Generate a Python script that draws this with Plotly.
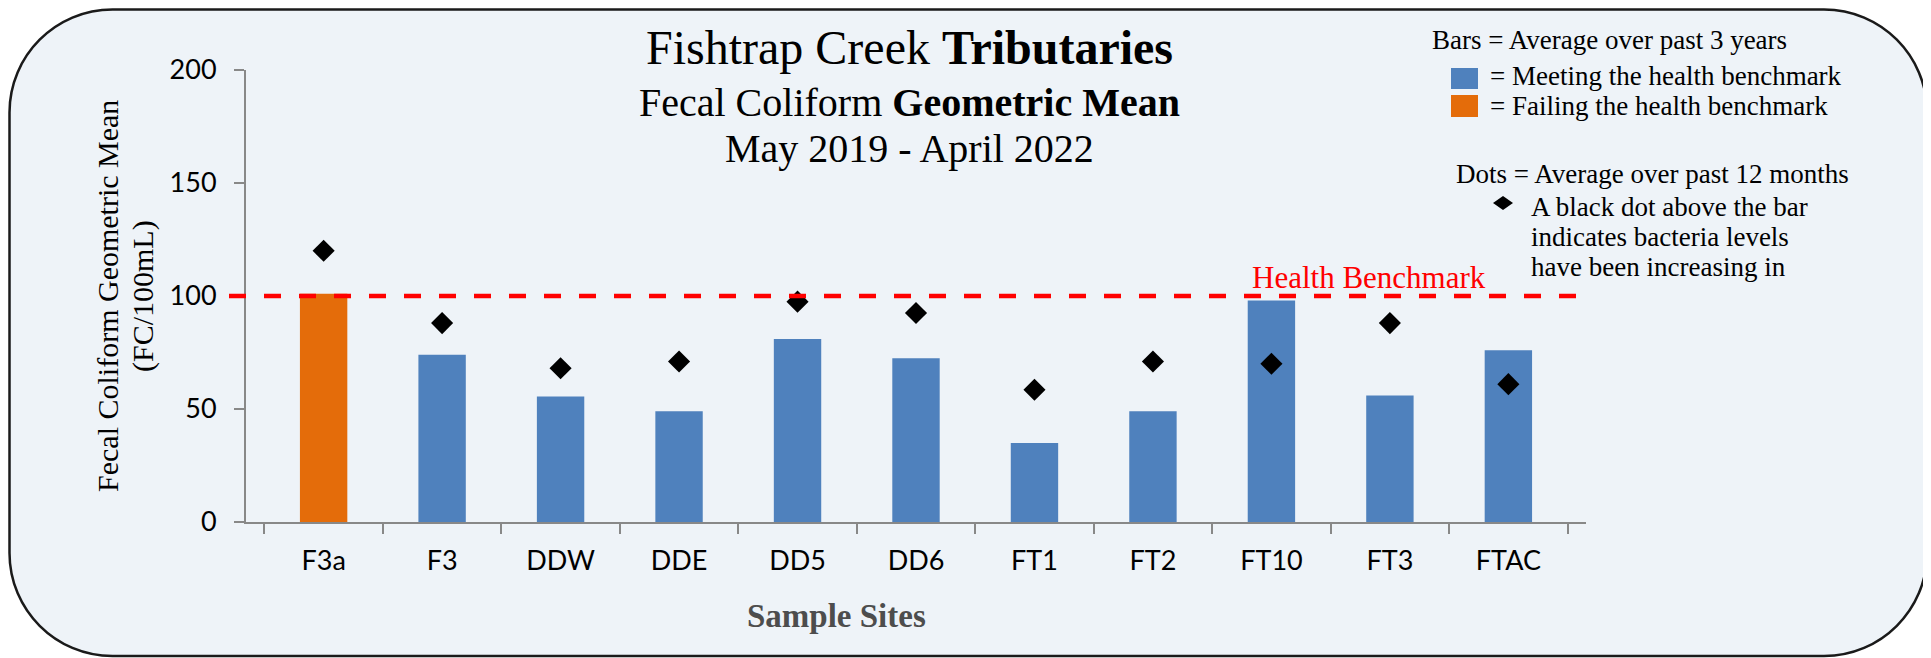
import plotly.graph_objects as go

# data
sites = ["F3a", "F3", "DDW", "DDE", "DD5", "DD6", "FT1", "FT2", "FT10", "FT3", "FTAC"]
avg_3yr = [101, 74, 55.5, 49, 81, 72.5, 35, 49, 98, 56, 76]
avg_12mo = [120, 88, 68, 71, 97.5, 92.5, 58.5, 71, 70, 88, 61]
benchmark = 100
y_ticks = [0, 50, 100, 150, 200]

MEET = "#4F81BD"
FAIL = "#E46C0A"
BG = "#EEF3F8"
SERIF = "Liberation Serif, serif"
SANS = "Lato, sans-serif"

# page size, and the 8px body margin the html page adds
PAGE_W, PAGE_H = 1931, 658
OFF = 8
W, H = PAGE_W - OFF, PAGE_H - OFF
# plot area in page pixels: x 246..1586, y 70..522
L, R, T, B = 246 - OFF, PAGE_W - 1586, 70 - OFF, PAGE_H - 522
PW, PH = W - L - R, H - T - B


# page pixel -> paper coords
def px(x):
    return (x - OFF - L) / PW


def py(y):
    return (H - B - (y - OFF)) / PH


def note(text, x, base, size, xanchor="left", color="black", family=SERIF):
    # place text by its baseline (approx)
    return dict(text=text, x=px(x), y=py(base - 0.3375 * size), xref="paper", yref="paper",
                xanchor=xanchor, yanchor="middle", showarrow=False,
                font=dict(family=family, size=size, color=color))


def rounded(x0, y0, x1, y1, r):
    k = 0.5523 * r
    p = lambda x, y: f"{px(x):.5f},{py(y):.5f}"
    return (f"M {p(x0 + r, y0)} L {p(x1 - r, y0)} "
            f"C {p(x1 - r + k, y0)} {p(x1, y0 + r - k)} {p(x1, y0 + r)} "
            f"L {p(x1, y1 - r)} "
            f"C {p(x1, y1 - r + k)} {p(x1 - r + k, y1)} {p(x1 - r, y1)} "
            f"L {p(x0 + r, y1)} "
            f"C {p(x0 + r - k, y1)} {p(x0, y1 - r + k)} {p(x0, y1 - r)} "
            f"L {p(x0, y0 + r)} "
            f"C {p(x0, y0 + r - k)} {p(x0 + r - k, y0)} {p(x0 + r, y0)} Z")


bar_colors = [FAIL if v >= benchmark else MEET for v in avg_3yr]

fig = go.Figure()
fig.add_trace(go.Bar(x=sites, y=avg_3yr, width=0.4, marker=dict(color=bar_colors, line=dict(width=0)),
                     name="Average over past 3 years"))
fig.add_trace(go.Scatter(x=sites, y=avg_12mo, mode="markers", name="Average over past 12 months",
                         marker=dict(symbol="diamond", size=17, color="black")))

shapes = [
    # rounded chart frame
    dict(type="path", xref="paper", yref="paper", path=rounded(9.5, 9.5, 1927, 656, 103),
         fillcolor=BG, line=dict(color="#1a1a1a", width=2.5), layer="below"),
    # health benchmark line
    dict(type="line", xref="paper", yref="y", x0=px(229), x1=px(1580), y0=benchmark, y1=benchmark,
         line=dict(color="#FF0000", width=4.5, dash="17px,18px")),
    # legend swatches
    dict(type="rect", xref="paper", yref="paper", x0=px(1451), x1=px(1478), y0=py(68), y1=py(89),
         fillcolor=MEET, line=dict(width=0)),
    dict(type="rect", xref="paper", yref="paper", x0=px(1451), x1=px(1478), y0=py(95), y1=py(117),
         fillcolor=FAIL, line=dict(width=0)),
    dict(type="path", xref="paper", yref="paper",
         path=f"M {px(1493)},{py(203)} L {px(1503)},{py(196)} L {px(1513)},{py(203)} L {px(1503)},{py(210)} Z",
         fillcolor="black", line=dict(width=0)),
]

annotations = [
    note("Fishtrap Creek <b>Tributaries</b>", 909, 64, 48, xanchor="center"),
    note("Fecal Coliform <b>Geometric Mean</b>", 909, 116, 40, xanchor="center"),
    note("May 2019 - April 2022", 909, 162, 40, xanchor="center"),
    note("Bars = Average over past 3 years", 1430, 49, 27),
    note("= Meeting the health benchmark", 1488, 85, 27),
    note("= Failing the health benchmark", 1488, 115, 27),
    note("Dots = Average over past 12 months", 1454, 183, 27),
    note("A black dot above the bar", 1529, 216, 27),
    note("indicates bacteria levels", 1529, 246, 27),
    note("have been increasing in", 1529, 276, 27),
    note("Health Benchmark", 1488, 288, 31, xanchor="right", color="#FF0000"),
    note("<b>Sample Sites</b>", 836, 627, 33, xanchor="center", color="#4D4D4D"),
    dict(text="Fecal Coliform Geometric Mean", x=px(107), y=py(296), xref="paper", yref="paper",
         xanchor="center", yanchor="middle", textangle=-90, showarrow=False,
         font=dict(family=SERIF, size=30, color="black")),
    dict(text="(FC/100mL)", x=px(143), y=py(296), xref="paper", yref="paper",
         xanchor="center", yanchor="middle", textangle=-90, showarrow=False,
         font=dict(family=SERIF, size=30, color="black")),
]

fig.update_layout(
    width=W, height=H, autosize=False,
    margin=dict(l=L, r=R, t=T, b=B, pad=0),
    paper_bgcolor="white", plot_bgcolor="rgba(0,0,0,0)",
    showlegend=False, bargap=0.6,
    shapes=shapes, annotations=annotations,
)
fig.update_xaxes(showline=True, linecolor="#888888", linewidth=2, ticks="outside", tickson="boundaries",
                 ticklen=10, tickwidth=2, tickcolor="#888888", showgrid=False,
                 tickfont=dict(family=SANS, size=27, color="black"), ticklabelstandoff=14)
fig.update_yaxes(range=[0, 200], tickvals=y_ticks, showline=True, linecolor="#888888", linewidth=2,
                 ticks="outside", ticklen=10, tickwidth=2, tickcolor="#888888", showgrid=False,
                 zeroline=False, tickfont=dict(family=SANS, size=27, color="black"), ticklabelstandoff=12)

fig.write_html("out.html")
